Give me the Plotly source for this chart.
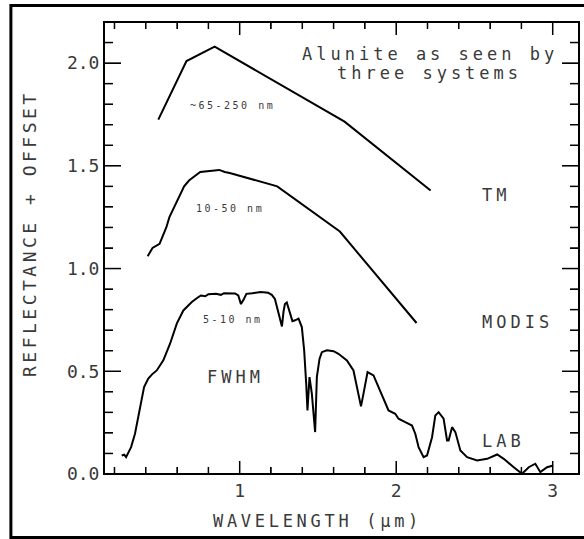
import plotly.graph_objects as go

# ---------------- data ----------------
tm_x = [0.48, 0.66, 0.84, 1.67, 2.22]
tm_y = [1.725, 2.01, 2.08, 1.715, 1.38]

modis_x = [0.412, 0.443, 0.488, 0.531, 0.551, 0.645, 0.667, 0.678, 0.748,
           0.858, 0.869, 0.905, 0.936, 1.24, 1.64, 2.13]
modis_y = [1.06, 1.10, 1.12, 1.20, 1.25, 1.40, 1.42, 1.43, 1.47,
           1.48, 1.48, 1.47, 1.465, 1.40, 1.18, 0.735]

lab_x = [0.246, 0.262, 0.274, 0.290, 0.306, 0.331, 0.359, 0.389, 0.416, 0.440,
         0.470, 0.512, 0.555, 0.598, 0.640, 0.694, 0.730, 0.752, 0.780, 0.800,
         0.848, 0.880, 0.900, 0.943, 0.970, 0.991, 1.008, 1.027, 1.043, 1.080,
         1.134, 1.182, 1.205, 1.225, 1.245, 1.258, 1.270, 1.280, 1.289, 1.301,
         1.320, 1.337, 1.354, 1.376, 1.397, 1.412, 1.425, 1.433, 1.446, 1.461,
         1.482, 1.493, 1.510, 1.525, 1.557, 1.600, 1.631, 1.685, 1.727, 1.753,
         1.775, 1.791, 1.817, 1.855, 1.887, 1.919, 1.951, 1.994, 2.015, 2.058,
         2.101, 2.122, 2.143, 2.175, 2.197, 2.229, 2.250, 2.271, 2.303, 2.325,
         2.335, 2.357, 2.378, 2.410, 2.453, 2.517, 2.581, 2.645, 2.687, 2.751,
         2.804, 2.847, 2.889, 2.921, 2.964, 3.003]
lab_y = [0.090, 0.094, 0.082, 0.105, 0.131, 0.196, 0.309, 0.423, 0.464, 0.485,
         0.504, 0.553, 0.634, 0.732, 0.796, 0.837, 0.858, 0.869, 0.865, 0.875,
         0.877, 0.872, 0.880, 0.881, 0.879, 0.869, 0.827, 0.852, 0.877, 0.880,
         0.886, 0.882, 0.872, 0.852, 0.790, 0.752, 0.718, 0.790, 0.827, 0.835,
         0.785, 0.744, 0.748, 0.756, 0.715, 0.602, 0.439, 0.309, 0.472, 0.391,
         0.204, 0.472, 0.560, 0.593, 0.602, 0.598, 0.585, 0.553, 0.504, 0.407,
         0.329, 0.391, 0.496, 0.480, 0.423, 0.358, 0.309, 0.293, 0.269, 0.252,
         0.236, 0.196, 0.131, 0.082, 0.090, 0.179, 0.285, 0.301, 0.269, 0.163,
         0.163, 0.228, 0.204, 0.114, 0.082, 0.066, 0.074, 0.095, 0.074, 0.033,
         0.001, 0.033, 0.050, 0.009, 0.033, 0.041]

title_lines = ["Alunite as seen by", "three systems"]
fwhm_labels = ["~65-250 nm", "10-50 nm", "5-10 nm"]
system_labels = ["TM", "MODIS", "LAB"]

# axis ranges and tick positions (minor every 0.2 / 0.1, major at 1 / 0.5)
x_range = [0.133, 3.168]
y_range = [0.0, 2.2]
x_tick_positions = [round(0.2 * i, 1) for i in range(1, 16)]
y_tick_positions = [round(0.1 * i, 1) for i in range(1, 22)]

FONT = "DejaVu Sans Mono"
TXT = "#3a3a3a"
PLOT_W, PLOT_H = 475, 452


def sp(t, s=4):
    return '<span style="letter-spacing:%spx">%s</span>' % (s, t)


fig = go.Figure()
for xs, ys in [(tm_x, tm_y), (modis_x, modis_y), (lab_x, lab_y)]:
    fig.add_trace(go.Scatter(x=xs, y=ys, mode="lines",
                             line=dict(color="black", width=2),
                             showlegend=False, hoverinfo="skip"))

# inward tick marks on all four sides, built from the tick positions
ux = (x_range[1] - x_range[0]) / PLOT_W   # data units per pixel
uy = (y_range[1] - y_range[0]) / PLOT_H
tx, ty = [], []
for v in x_tick_positions:
    L = (13 if abs(v - round(v)) < 1e-9 else 7) * uy
    tx += [v, v, None, v, v, None]
    ty += [y_range[0], y_range[0] + L, None, y_range[1], y_range[1] - L, None]
for v in y_tick_positions:
    L = (17 if abs(v * 2 - round(v * 2)) < 1e-9 else 9) * ux
    tx += [x_range[0], x_range[0] + L, None, x_range[1], x_range[1] - L, None]
    ty += [v, v, None, v, v, None]
fig.add_trace(go.Scatter(x=tx, y=ty, mode="lines",
                         line=dict(color="black", width=1.5),
                         showlegend=False, hoverinfo="skip"))

fig.update_xaxes(range=x_range, dtick=1, tickformat="d",
                 ticks="inside", ticklen=13, tickcolor="black",
                 minor=dict(dtick=0.2, ticks="inside", ticklen=7, tickcolor="black"),
                 showline=True, linecolor="black", mirror="ticks", showgrid=False,
                 tickfont=dict(family=FONT, size=18, color=TXT))
fig.update_yaxes(range=y_range, dtick=0.5, tickformat=".1f",
                 ticks="inside", ticklen=17, tickcolor="black",
                 minor=dict(dtick=0.1, ticks="inside", ticklen=9, tickcolor="black"),
                 showline=True, linecolor="black", mirror="ticks", showgrid=False,
                 tickfont=dict(family=FONT, size=18, color=TXT))

ann = []
f17 = dict(family=FONT, size=17, color=TXT)
f10 = dict(family=FONT, size=10, color=TXT)
ann.append(dict(x=2.216, y=2.044, text=sp(title_lines[0]), font=f17))
ann.append(dict(x=2.21, y=1.953, text=sp(title_lines[1]), font=f17))
for (xx, yy), t in zip([(0.951, 1.796), (0.938, 1.290), (0.960, 0.750)], fwhm_labels):
    ann.append(dict(x=xx, y=yy, text=sp(t, 2.5), font=f10))
ann.append(dict(x=0.970, y=0.474, text=sp("FWHM"), font=f17))
for yy, t in zip([1.358, 0.740, 0.161], system_labels):
    ann.append(dict(x=2.536, y=yy, text=sp(t), font=f17, xanchor="left"))
for a in ann:
    a.setdefault("xanchor", "center")
    a.update(xref="x", yref="y", yanchor="middle", showarrow=False)

ann.append(dict(xref="paper", yref="paper", x=0.449, y=-0.105,
                text=sp("WAVELENGTH (μm)", 3.7), font=f17, showarrow=False,
                xanchor="center", yanchor="middle"))
ann.append(dict(xref="paper", yref="paper", x=-0.158, y=0.533,
                text=sp("REFLECTANCE + OFFSET", 3.5), font=dict(family=FONT, size=18, color=TXT),
                textangle=-90, showarrow=False, xanchor="center", yanchor="middle"))

shapes = [dict(type="rect", xref="paper", yref="paper",
               x0=-0.196, x1=1.03, y0=-0.1405, y1=1.0365,
               line=dict(color="black", width=3)),
          dict(type="rect", xref="paper", yref="paper",
               x0=0, x1=1, y0=0, y1=1,
               line=dict(color="black", width=2))]

fig.update_layout(
    width=584, height=539,
    margin=dict(l=104, r=5, t=22, b=65),
    paper_bgcolor="white", plot_bgcolor="white",
    annotations=ann,
    shapes=shapes,
)

fig.write_html("out.html")
